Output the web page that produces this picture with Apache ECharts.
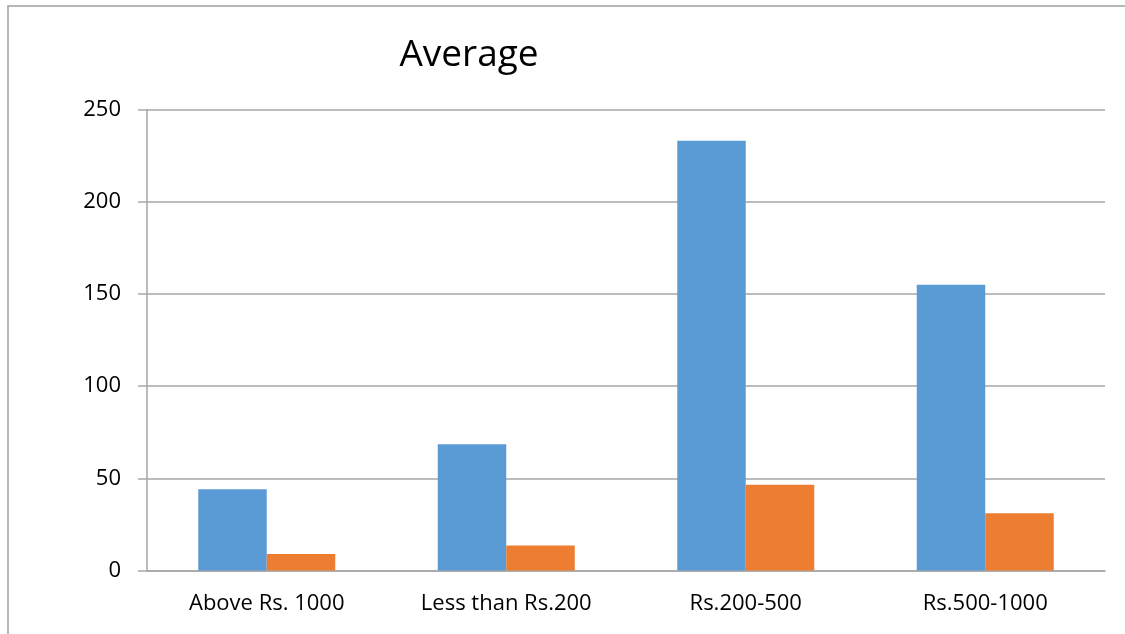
<!DOCTYPE html>
<html>
<head>
<meta charset="utf-8">
<script src="https://cdn.jsdelivr.net/npm/echarts@6/dist/echarts.min.js"></script>
<style>
  html, body { margin: 0; padding: 0; background: #fff; }
  #chart { width: 1125px; height: 634px; }
</style>
</head>
<body>
<div id="chart"></div>
<script>
const categories = ['Above Rs. 1000', 'Less than Rs.200', 'Rs.200-500', 'Rs.500-1000'];
const seriesA = [44, 68.5, 233, 155];
const seriesB = [9, 13.5, 46.5, 31];
const yTicks = [0, 50, 100, 150, 200, 250];

const chart = echarts.init(document.getElementById('chart'));
const font = 'Open Sans, Liberation Sans, sans-serif';

chart.setOption({
  animation: false,
  title: {
    text: 'Average',
    left: 464,
    top: 32,
    textAlign: 'center',
    textStyle: { fontFamily: font, fontSize: 37, fontWeight: 'normal', color: '#000' }
  },
  graphic: [{
    type: 'rect',
    shape: { x: 8, y: 6, width: 1140, height: 660 },
    style: { fill: 'none', stroke: '#a0a0a0', lineWidth: 1.5 },
    silent: true
  }],
  grid: { left: 147, right: 20, top: 109.5, bottom: 63.5 },
  xAxis: {
    type: 'category',
    data: categories,
    axisLine: { lineStyle: { color: '#a6a6a6', width: 1.5 } },
    axisTick: { show: false },
    axisLabel: { color: '#000', fontFamily: font, fontSize: 22, margin: 22 }
  },
  yAxis: {
    type: 'value',
    min: yTicks[0],
    max: yTicks[yTicks.length - 1],
    interval: 50,
    axisLine: { show: true, lineStyle: { color: '#a6a6a6', width: 1.5 } },
    axisTick: { show: true, length: 9, lineStyle: { color: '#a6a6a6', width: 1.5 } },
    axisLabel: { color: '#000', fontFamily: font, fontSize: 22, margin: 26 },
    splitLine: { lineStyle: { color: '#a6a6a6', width: 1.5 } }
  },
  series: [
    {
      name: 'A',
      type: 'bar',
      data: seriesA,
      barWidth: '28.6%',
      barGap: '0%',
      itemStyle: { color: '#5B9BD5' }
    },
    {
      name: 'B',
      type: 'bar',
      data: seriesB,
      barWidth: '28.6%',
      itemStyle: { color: '#ED7D31' }
    }
  ]
});
</script>
</body>
</html>
